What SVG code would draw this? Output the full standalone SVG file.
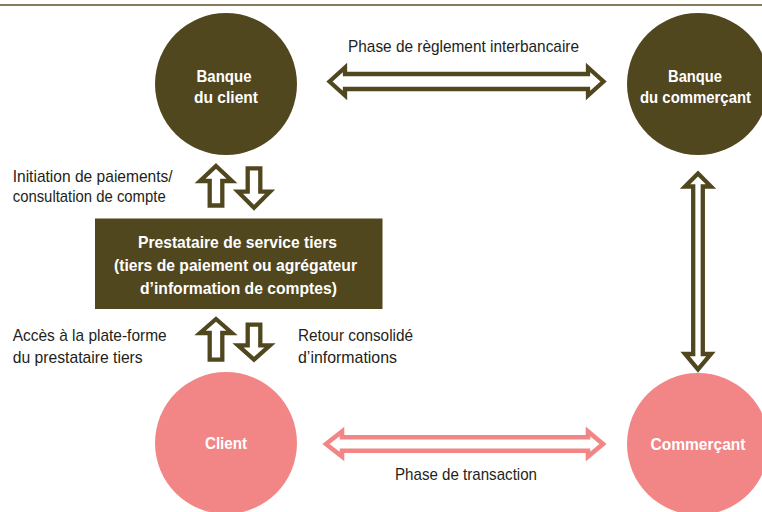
<svg xmlns="http://www.w3.org/2000/svg" width="762" height="512" viewBox="0 0 762 512">
<style>
text{font-family:"Liberation Sans",Arial,sans-serif;font-size:17px}
.lbl{fill:#231f20}
.w{fill:#ffffff;font-weight:bold;text-anchor:middle}
.dark{fill:#51471f}
.pink{fill:#f28686}
.arr{fill:#ffffff;stroke:#51471f;stroke-width:4.3;stroke-linejoin:miter;stroke-miterlimit:10}
.arrp{fill:#ffffff;stroke:#f28686;stroke-width:4.6;stroke-linejoin:miter;stroke-miterlimit:10}
</style>
<rect width="762" height="512" fill="#ffffff"/>
<line x1="0" y1="5" x2="762" y2="5" stroke="#857c5c" stroke-width="2"/>

<g id="banque-client">
<circle class="dark" cx="226" cy="84" r="71"/>
<text class="w" x="224" y="81.7" textLength="55" lengthAdjust="spacingAndGlyphs">Banque</text>
<text class="w" x="226" y="103.3" textLength="64" lengthAdjust="spacingAndGlyphs">du client</text>
</g>

<g id="banque-commercant">
<circle class="dark" cx="698" cy="84" r="71"/>
<text class="w" x="695" y="81.7" textLength="54" lengthAdjust="spacingAndGlyphs">Banque</text>
<text class="w" x="695.5" y="103.3" font-size="16.5" textLength="111" lengthAdjust="spacingAndGlyphs">du commerçant</text>
</g>

<g id="prestataire">
<rect class="dark" x="95" y="218.5" width="287.5" height="90.5"/>
<text class="w" x="237.5" y="247.5" textLength="199" lengthAdjust="spacingAndGlyphs">Prestataire de service tiers</text>
<text class="w" x="235.5" y="271" textLength="243" lengthAdjust="spacingAndGlyphs">(tiers de paiement ou agrégateur</text>
<text class="w" x="238.5" y="294.3" textLength="197" lengthAdjust="spacingAndGlyphs">d’information de comptes)</text>
</g>

<g id="client">
<circle class="pink" cx="226" cy="443" r="71"/>
<text class="w" x="226" y="449.3" textLength="42" lengthAdjust="spacingAndGlyphs">Client</text>
</g>

<g id="commercant">
<circle class="pink" cx="698" cy="444" r="71"/>
<text class="w" x="698" y="450" textLength="95" lengthAdjust="spacingAndGlyphs">Commerçant</text>
</g>

<g id="connectors">
<polygon class="arr" points="329.5,81.5 345,67.5 345,74 588,74 588,67.5 603.5,81.5 588,95.5 588,89 345,89 345,95.5"/>
<polygon class="arrp" points="326,444 342,431.5 342,437.3 588,437.3 588,431.5 603,444 588,456.5 588,450.7 342,450.7 342,456.5"/>
<polygon class="arr" points="698,173.5 711,186.5 702.8,186.5 702.8,354 711,354 698,369.5 685,354 693.2,354 693.2,186.5 685,186.5"/>
<polygon class="arr" points="216,166 232,181 222.3,181 222.3,205.5 209.7,205.5 209.7,181 200,181"/>
<polygon class="arr" points="247.7,168.3 260.3,168.3 260.3,191.7 270,191.7 254,207.7 238,191.7 247.7,191.7"/>
<polygon class="arr" points="216,319 232,333 222.3,333 222.3,359.7 209.7,359.7 209.7,333 200,333"/>
<polygon class="arr" points="247.7,324.7 260.3,324.7 260.3,345.3 270,345.3 254,359.7 238,345.3 247.7,345.3"/>
</g>

<g id="labels">
<text class="lbl" x="348" y="51.5" textLength="231" lengthAdjust="spacingAndGlyphs">Phase de règlement interbancaire</text>
<text class="lbl" x="12.7" y="181.5" textLength="160" lengthAdjust="spacingAndGlyphs">Initiation de paiements/</text>
<text class="lbl" x="12.7" y="201.5" textLength="153" lengthAdjust="spacingAndGlyphs">consultation de compte</text>
<text class="lbl" x="12.7" y="340.7" textLength="154" lengthAdjust="spacingAndGlyphs">Accès à la plate-forme</text>
<text class="lbl" x="12.7" y="362.7" textLength="130" lengthAdjust="spacingAndGlyphs">du prestataire tiers</text>
<text class="lbl" x="298" y="340.7" textLength="115" lengthAdjust="spacingAndGlyphs">Retour consolidé</text>
<text class="lbl" x="298" y="362.7" textLength="99" lengthAdjust="spacingAndGlyphs">d’informations</text>
<text class="lbl" x="395" y="480" textLength="142" lengthAdjust="spacingAndGlyphs">Phase de transaction</text>
</g>
</svg>
